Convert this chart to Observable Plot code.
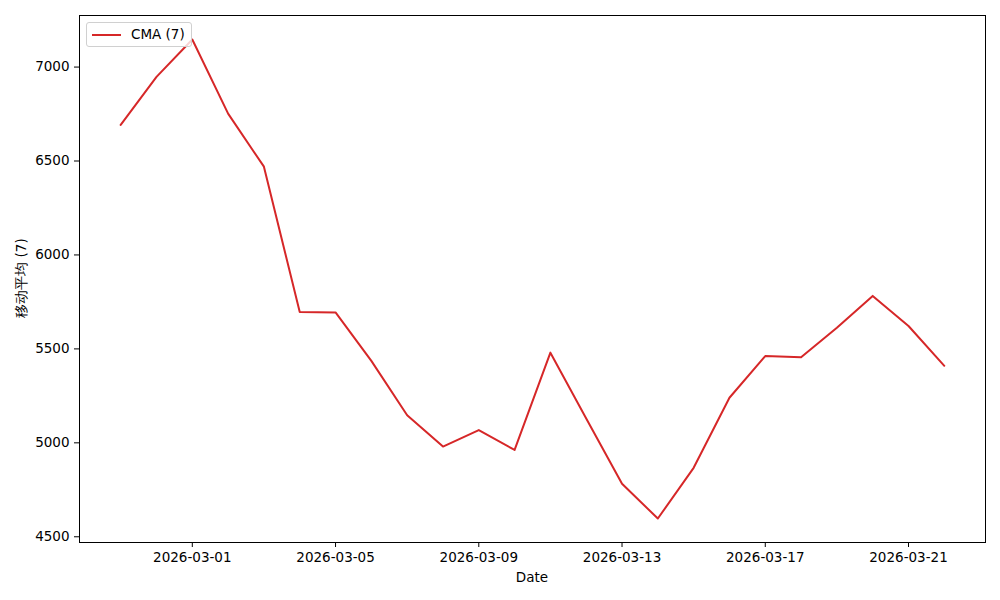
<!DOCTYPE html>
<html>
<head>
<meta charset="utf-8">
<script src="https://cdn.jsdelivr.net/npm/d3@7"></script>
<script src="https://cdn.jsdelivr.net/npm/@observablehq/plot@0.6"></script>
<style>
  body { margin: 0; background: #fff; }
  #wrap { position: relative; width: 1000px; height: 600px; font-family: "DejaVu Sans", sans-serif; }
  #legend { position: absolute; left: 86px; top: 22px; width: 104px; height: 23px; border: 1px solid #d0d0d0; border-radius: 3px; background: rgba(255,255,255,0.8); font-size: 13.5px; }
  #legend .sw { position: absolute; left: 5px; top: 11px; width: 29px; height: 0; border-top: 2px solid #d62728; }
  #legend .tx { position: absolute; left: 44px; top: 3px; color: #000; }
  #xlabel { position: absolute; left: 79px; width: 906px; top: 569px; text-align: center; font-size: 13.5px; }
  #ylabel { position: absolute; left: 22px; top: 278px; font-size: 13.5px; transform: translate(-50%, -50%) rotate(-90deg); white-space: nowrap; }
</style>
</head>
<body>
<div id="wrap">
  <div id="chart"></div>
  <div id="legend"><div class="sw"></div><div class="tx">CMA (7)</div></div>
  <div id="xlabel">Date</div>
  <div id="ylabel">移动平均 (7)</div>
</div>
<script>
const dates = ["2026-02-27","2026-02-28","2026-03-01","2026-03-02","2026-03-03","2026-03-04","2026-03-05","2026-03-06","2026-03-07","2026-03-08","2026-03-09","2026-03-10","2026-03-11","2026-03-12","2026-03-13","2026-03-14","2026-03-15","2026-03-16","2026-03-17","2026-03-18","2026-03-19","2026-03-20","2026-03-21","2026-03-22"];
const cma = [6692,6948,7147,6752,6470,5696,5694,5436,5147,4980,5068,4962,5480,5130,4782,4597,4867,5240,5462,5455,5612,5782,5622,5410];
const yTicks = [4500,5000,5500,6000,6500,7000];
const xTickLabels = ["2026-03-01","2026-03-05","2026-03-09","2026-03-13","2026-03-17","2026-03-21"];

const parse = d3.utcParse("%Y-%m-%d");
const data = dates.map((d, i) => ({date: parse(d), value: cma[i]}));
const xTicks = xTickLabels.map(parse);

const x0 = data[0].date, x1 = data[data.length - 1].date;
const xpad = (x1 - x0) * 0.05;
const ymin = d3.min(cma), ymax = d3.max(cma);
const ypad = (ymax - ymin) * 0.05;

const chart = Plot.plot({
  width: 1000,
  height: 600,
  marginLeft: 79,
  marginRight: 15,
  marginTop: 15,
  marginBottom: 58,
  style: {fontFamily: "DejaVu Sans, sans-serif", fontSize: "13.5px", color: "#000", background: "#fff"},
  x: {type: "utc", domain: [new Date(+x0 - xpad), new Date(+x1 + xpad)]},
  y: {domain: [ymin - ypad, ymax + ypad]},
  marks: [
    Plot.frame({stroke: "#000", strokeWidth: 1}),
    Plot.axisX({ticks: xTicks, tickFormat: d3.utcFormat("%Y-%m-%d"), tickSize: 5, tickPadding: 5, label: null, fontSize: 13.5}),
    Plot.axisY({ticks: yTicks, tickFormat: d => String(d), tickSize: 5, tickPadding: 5, label: null, fontSize: 13.5}),
    Plot.line(data, {x: "date", y: "value", stroke: "#d62728", strokeWidth: 2})
  ]
});
document.getElementById("chart").appendChild(chart);
</script>
</body>
</html>
